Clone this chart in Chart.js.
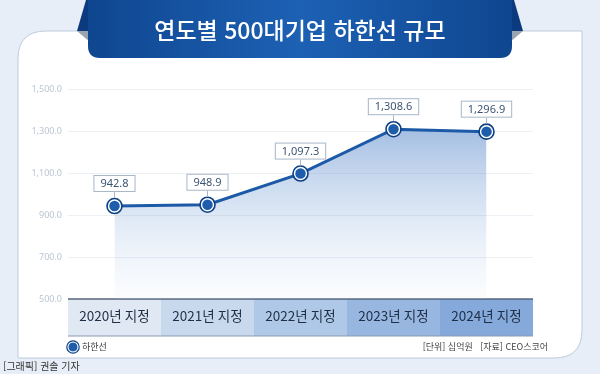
<!DOCTYPE html>
<html lang="ko">
<head>
<meta charset="utf-8">
<script src="https://cdn.jsdelivr.net/npm/chart.js@4"></script>
<style>
  html, body { margin: 0; padding: 0; }
  body { width: 600px; height: 374px; overflow: hidden; background: #e7eef7; font-family: "Noto Sans CJK KR", "Noto Sans", sans-serif; }
  #wrap { position: relative; width: 600px; height: 374px; }
  #chart { position: absolute; left: 0; top: 0; }
  .txt { position: absolute; white-space: nowrap; }
  #title { left: 0; width: 600px; top: 13px; text-align: center; color: #fff; font-size: 23px; font-weight: 500; line-height: 32px; }
  #legend { left: 82px; top: 340px; font-size: 9px; color: #333; line-height: 14px; }
  #source { right: 52px; top: 340px; font-size: 9px; color: #444; line-height: 14px; }
  #credit { left: 3px; top: 359px; font-size: 10px; color: #333; line-height: 14px; }
</style>
</head>
<body>
<div id="wrap">
  <canvas id="chart" width="600" height="374"></canvas>
  <div class="txt" id="title">연도별 500대기업 하한선 규모</div>
  <div class="txt" id="legend">하한선</div>
  <div class="txt" id="source">[단위] 십억원&nbsp;&nbsp;&nbsp;[자료] CEO스코어</div>
  <div class="txt" id="credit">[그래픽] 권솔 기자</div>
</div>
<script>
// DATA
const categories = ["2020년 지정", "2021년 지정", "2022년 지정", "2023년 지정", "2024년 지정"];
const floorValues = [942.8, 948.9, 1097.3, 1308.6, 1296.9];
const yTicks = [500, 700, 900, 1100, 1300, 1500];
const seriesName = "하한선";

const bandColors = ["#dfe8f3", "#c8d8ed", "#b0c8e7", "#97b7e0", "#84a9da"];

function fmt(v, digits) {
  return v.toLocaleString("en-US", { minimumFractionDigits: digits, maximumFractionDigits: digits });
}

// BACKGROUND: card + ribbon + category band
const backdrop = {
  id: "backdrop",
  beforeDraw(chart) {
    const ctx = chart.ctx;
    ctx.save();
    // card
    const L = 18, T = 31, R = 582, B = 358, r = 28;
    ctx.beginPath();
    ctx.moveTo(L + r, T);
    ctx.lineTo(R, T);
    ctx.lineTo(R, B - r);
    ctx.quadraticCurveTo(R, B, R - r, B);
    ctx.lineTo(L, B);
    ctx.lineTo(L, T + r);
    ctx.quadraticCurveTo(L, T, L + r, T);
    ctx.closePath();
    ctx.fillStyle = "#ffffff";
    ctx.fill();
    ctx.strokeStyle = "#bccbdc";
    ctx.lineWidth = 1;
    ctx.stroke();

    // ribbon folds
    ctx.fillStyle = "#9aa5b2";
    ctx.beginPath();
    ctx.moveTo(77, 31); ctx.lineTo(90, 31); ctx.lineTo(90, 42); ctx.closePath(); ctx.fill();
    ctx.beginPath();
    ctx.moveTo(523, 31); ctx.lineTo(510, 31); ctx.lineTo(510, 42); ctx.closePath(); ctx.fill();

    // ribbon wings
    ctx.fillStyle = "#0b3a7e";
    ctx.beginPath();
    ctx.moveTo(86, 0); ctx.lineTo(100, 0); ctx.lineTo(100, 31); ctx.lineTo(77, 31); ctx.closePath(); ctx.fill();
    ctx.beginPath();
    ctx.moveTo(514, 0); ctx.lineTo(500, 0); ctx.lineTo(500, 31); ctx.lineTo(523, 31); ctx.closePath(); ctx.fill();

    // ribbon body
    const g = ctx.createLinearGradient(88, 0, 512, 0);
    g.addColorStop(0, "#0f4690");
    g.addColorStop(0.5, "#1d61b4");
    g.addColorStop(1, "#0f4690");
    ctx.fillStyle = g;
    ctx.beginPath();
    ctx.moveTo(88, 0);
    ctx.lineTo(512, 0);
    ctx.lineTo(512, 46);
    ctx.quadraticCurveTo(512, 58, 500, 58);
    ctx.lineTo(100, 58);
    ctx.quadraticCurveTo(88, 58, 88, 46);
    ctx.closePath();
    ctx.fill();

    // category band under the plot (x tick labels sit on it)
    const x = chart.scales.x;
    const area = chart.chartArea;
    const top = area.bottom, bottom = area.bottom + 37;
    const w = x.width / categories.length;
    categories.forEach((c, i) => {
      const cx = x.getPixelForTick(i);
      ctx.fillStyle = bandColors[i];
      ctx.fillRect(cx - w / 2, top, w, bottom - top);
    });
    ctx.strokeStyle = "#56667c";
    ctx.lineWidth = 1.5;
    ctx.beginPath();
    ctx.moveTo(x.left, top); ctx.lineTo(x.right, top);
    ctx.stroke();
    ctx.strokeStyle = "#8a9bb3";
    ctx.lineWidth = 1;
    ctx.beginPath();
    ctx.moveTo(x.left, bottom); ctx.lineTo(x.right, bottom);
    ctx.stroke();
    ctx.restore();
  }
};

// POINT RINGS + VALUE BOXES
const valueBoxes = {
  id: "valueBoxes",
  afterDatasetsDraw(chart) {
    const ctx = chart.ctx;
    const meta = chart.getDatasetMeta(0);
    ctx.save();
    meta.data.forEach((pt, i) => {
      // outer ring
      ctx.beginPath();
      ctx.arc(pt.x, pt.y, 7.5, 0, Math.PI * 2);
      ctx.strokeStyle = "#0d3f83";
      ctx.lineWidth = 1.6;
      ctx.stroke();

      const label = fmt(floorValues[i], 1);
      ctx.font = "11px 'Noto Sans', sans-serif";
      const tw = ctx.measureText(label).width;
      const bw = tw + 14, bh = 17;
      const bx = pt.x - bw / 2, by = pt.y - 14 - bh;
      // connector
      ctx.strokeStyle = "#a8b7c7";
      ctx.lineWidth = 1;
      ctx.beginPath();
      ctx.moveTo(pt.x, by + bh);
      ctx.lineTo(pt.x, pt.y - 8);
      ctx.stroke();
      ctx.fillStyle = "#ffffff";
      ctx.fillRect(bx, by, bw, bh);
      ctx.strokeRect(bx + 0.5, by + 0.5, bw - 1, bh - 1);
      ctx.fillStyle = "#3d5573";
      ctx.textAlign = "center";
      ctx.textBaseline = "middle";
      ctx.fillText(label, pt.x, by + bh / 2 + 0.5);
    });

    // legend marker
    ctx.beginPath();
    ctx.arc(73, 347, 5, 0, Math.PI * 2);
    ctx.fillStyle = "#1e5dab";
    ctx.fill();
    ctx.strokeStyle = "#ffffff";
    ctx.lineWidth = 1;
    ctx.stroke();
    ctx.beginPath();
    ctx.arc(73, 347, 6.2, 0, Math.PI * 2);
    ctx.strokeStyle = "#0d3f83";
    ctx.lineWidth = 1.2;
    ctx.stroke();
    ctx.restore();
  }
};

function areaGradient(context) {
  const chart = context.chart;
  const area = chart.chartArea;
  if (!area) return "rgba(60,120,200,0.2)";
  const g = chart.ctx.createLinearGradient(0, area.top + 40, 0, area.bottom);
  g.addColorStop(0, "rgba(52,112,192,0.45)");
  g.addColorStop(1, "rgba(200,218,240,0.08)");
  return g;
}

// CHART
new Chart(document.getElementById("chart"), {
  type: "line",
  data: {
    labels: categories,
    datasets: [
      {
        label: seriesName,
        data: floorValues,
        borderColor: "#1c5aa8",
        borderWidth: 3,
        backgroundColor: areaGradient,
        fill: "start",
        tension: 0,
        pointRadius: 6,
        pointBackgroundColor: "#1e5dab",
        pointBorderColor: "#ffffff",
        pointBorderWidth: 1.5,
      },
    ],
  },
  options: {
    responsive: false,
    animation: false,
    layout: { padding: { left: 0, right: 67, top: 89, bottom: 38 } },
    plugins: {
      legend: { display: false },
      tooltip: { enabled: false },
    },
    scales: {
      x: {
        offset: true,
        grid: { display: false, drawTicks: false },
        border: { display: false },
        ticks: {
          color: "#1f2f45",
          font: { size: 13.5, family: "'Noto Sans CJK KR', sans-serif" },
          padding: 9,
          maxRotation: 0,
        },
        afterFit(scale) { scale.height = 37; },
      },
      y: {
        min: 500,
        max: 1500,
        afterBuildTicks(scale) { scale.ticks = yTicks.map((v) => ({ value: v })); },
        grid: {
          drawTicks: false,
          color: (c) => (c.tick && c.tick.value === 500 ? "rgba(0,0,0,0)" : "#eceff3"),
        },
        border: { display: false },
        ticks: {
          color: "#bac5d2",
          font: { size: 9, family: "'Noto Sans', sans-serif" },
          padding: 6,
          callback: (v) => fmt(v, 1),
        },
        afterFit(scale) { scale.width = 68; },
      },
    },
  },
  plugins: [backdrop, valueBoxes],
});
</script>
</body>
</html>
